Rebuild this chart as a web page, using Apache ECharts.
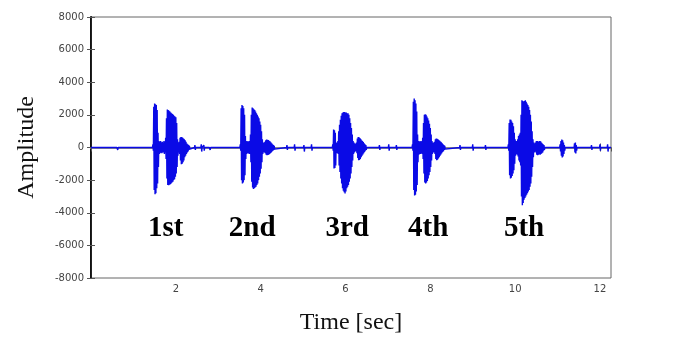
<!DOCTYPE html>
<html>
<head>
<meta charset="utf-8">
<script src="https://cdn.jsdelivr.net/npm/echarts@6/dist/echarts.min.js"></script>
<style>
html, body { margin: 0; background: #fff; }
#chart { width: 700px; height: 340px; }
</style>
</head>
<body>
<div id="chart"></div>
<script>
// time axis (sec) and amplitude axis
var timeMax = 12.26;
var timeTicks = 2;
var ampMin = -8000, ampMax = 8000, ampStep = 2000;

// each spoken word: start time, then upper / lower envelope every sampleStep sec
var sampleStep = 0.02;
var burstStarts = [1.46, 3.52, 5.70, 7.58, 9.84];
var burstHi = [
    [200,2500,2700,2650,2600,2300,900,400,350,400,300,350,300,400,350,600,1800,2330,2300,2250,2200,2150,2100,2050,2000,1950,1900,1850,1500,500,300,350,600,650,640,600,550,500,450,350,250,200,150,100],
    [200,2400,2600,2550,2400,2000,700,400,350,400,350,400,800,2000,2450,2400,2350,2300,2200,2100,2000,1900,1800,1600,1400,1000,500,300,300,350,450,490,480,460,420,380,320,260,200,150,100],
    [200,1100,1050,900,300,300,400,1000,1400,1700,1950,2100,2150,2180,2180,2150,2150,2100,2100,2000,1800,1500,1200,800,400,300,250,250,300,550,650,620,580,520,450,400,330,260,200,150],
    [200,2800,3000,2900,2700,2200,800,400,350,400,350,400,600,1500,2000,2040,2000,1900,1800,1650,1450,1200,800,400,300,300,350,500,550,540,500,460,420,370,320,260,200,150,100],
    [200,1500,1720,1700,1600,1500,1300,900,500,400,400,500,700,800,900,2000,2900,2850,2800,2850,2900,2800,2700,2600,2500,2300,2000,1600,1000,500,300,250,300,400,400,380,350,400,380,300,250,200,150]
];
var burstLo = [
    [-200,-2600,-2860,-2800,-2500,-2200,-1200,-400,-350,-300,-350,-300,-300,-400,-300,-700,-1900,-2300,-2310,-2280,-2250,-2200,-2150,-2100,-2000,-1950,-1800,-1600,-1200,-500,-300,-400,-800,-1020,-1000,-900,-800,-600,-500,-400,-300,-250,-150,-100],
    [-200,-2000,-2200,-2150,-2000,-1700,-700,-400,-350,-350,-400,-400,-900,-2100,-2450,-2550,-2500,-2450,-2400,-2300,-2200,-2000,-1800,-1600,-1300,-900,-400,-300,-300,-350,-450,-470,-460,-440,-400,-350,-300,-250,-200,-150,-100],
    [-200,-1290,-1250,-1100,-300,-350,-400,-1100,-1500,-1900,-2200,-2500,-2650,-2750,-2820,-2700,-2500,-2400,-2300,-2100,-1900,-1600,-1200,-800,-400,-300,-250,-250,-350,-650,-780,-760,-700,-600,-500,-420,-350,-280,-200,-150],
    [-200,-2600,-2950,-2900,-2700,-2300,-900,-450,-400,-400,-350,-400,-700,-1600,-2150,-2200,-2150,-2050,-1900,-1700,-1500,-1200,-800,-400,-300,-300,-400,-700,-780,-750,-680,-600,-500,-420,-350,-280,-220,-150,-100],
    [-200,-1700,-1900,-1850,-1750,-1600,-1400,-1000,-500,-400,-450,-550,-800,-900,-1100,-3000,-3540,-3400,-3200,-3100,-3000,-2900,-2800,-2700,-2600,-2400,-2200,-1800,-1200,-600,-300,-250,-300,-450,-470,-450,-420,-450,-400,-350,-300,-200,-150]
];

// background noise and small clicks between the words
var noiseTimes = [0.30,0.42,0.62,2.45,2.60,2.66,2.80,4.62,4.80,5.02,5.20,6.80,7.02,7.20,8.70,9.00,9.30,11.06,11.08,11.10,11.12,11.14,11.16,11.40,11.42,11.44,11.80,12.00,12.18];
var noiseHi    = [100,120,100,150,200,150,100,150,200,150,200,150,200,150,150,200,150,200,400,490,450,300,150,250,300,150,150,200,200];
var noiseLo    = [-100,-120,-150,-150,-250,-200,-150,-150,-200,-250,-200,-150,-200,-150,-150,-200,-150,-250,-500,-610,-550,-400,-200,-300,-370,-200,-150,-200,-250];

// word labels under the bursts
var wordLabels = ['1st', '2nd', '3rd', '4th', '5th'];
var wordTimes = [1.76, 3.80, 6.04, 7.95, 10.21];
var wordLevel = -4950;

// collect every (time, hi, lo) sample and turn it into a zig-zag waveform
var samples = [];
for (var b = 0; b < burstStarts.length; b++) {
    var n = Math.min(burstHi[b].length, burstLo[b].length);
    for (var i = 0; i < n; i++) {
        samples.push([+(burstStarts[b] + i * sampleStep).toFixed(3), burstHi[b][i], burstLo[b][i]]);
    }
}
for (var k = 0; k < noiseTimes.length; k++) {
    samples.push([noiseTimes[k], noiseHi[k], noiseLo[k]]);
}
samples.sort(function(a, b) { return a[0] - b[0]; });

var wave = [[0, 0]];
for (var s = 0; s < samples.length; s++) {
    var t = samples[s][0];
    var prev = s > 0 ? samples[s-1][0] : -1;
    var next = s < samples.length - 1 ? samples[s+1][0] : 99;
    if (t - prev > 0.05) wave.push([t - 0.01, 0]);
    wave.push([t, samples[s][1]]);
    wave.push([t + 0.01, samples[s][2]]);
    if (next - t > 0.05) wave.push([t + 0.02, 0]);
}
wave.push([timeMax, 0]);

var words = [];
for (var w = 0; w < wordLabels.length; w++) {
    words.push({ value: [wordTimes[w], wordLevel], name: wordLabels[w] });
}

var tickFont = { fontSize: 10, color: '#444', fontFamily: 'DejaVu Sans' };

var myChart = echarts.init(document.getElementById('chart'));
var option = {
    animation: false,
    grid: {
        left: 91,
        right: 89,
        top: 17,
        bottom: 62,
        show: true,
        borderColor: '#666',
        borderWidth: 1
    },
    xAxis: [
        {
            type: 'value',
            min: 0,
            max: timeMax,
            interval: timeTicks,
            position: 'bottom',
            name: 'Time [sec]',
            nameLocation: 'middle',
            nameGap: 33,
            nameTextStyle: { fontSize: 24, color: '#111', fontFamily: 'Liberation Serif' },
            axisLine: { show: true, lineStyle: { color: '#888', width: 2 } },
            axisTick: { show: true, inside: true, length: 4, lineStyle: { color: '#555' } },
            axisLabel: Object.assign({ margin: 6, showMinLabel: false, showMaxLabel: false }, tickFont),
            splitLine: { show: false }
        },
        {
            type: 'value',
            min: 0,
            max: timeMax,
            interval: timeTicks,
            position: 'top',
            axisLine: { show: true, lineStyle: { color: '#888', width: 1 } },
            axisTick: { show: true, inside: true, length: 4, lineStyle: { color: '#555' } },
            axisLabel: { show: false },
            splitLine: { show: false }
        }
    ],
    yAxis: [
        {
            type: 'value',
            min: ampMin,
            max: ampMax,
            interval: ampStep,
            position: 'left',
            name: 'Amplitude',
            nameLocation: 'middle',
            nameGap: 52,
            nameRotate: 90,
            nameTextStyle: { fontSize: 24, color: '#111', fontFamily: 'Liberation Serif' },
            axisLine: { show: true, lineStyle: { color: '#111', width: 2 } },
            axisTick: { show: true, inside: true, length: 4, lineStyle: { color: '#555' } },
            axisLabel: Object.assign({
                margin: 7,
                formatter: function(v) { return String(v); }
            }, tickFont),
            splitLine: { show: false }
        },
        {
            type: 'value',
            min: ampMin,
            max: ampMax,
            interval: ampStep,
            position: 'right',
            axisLine: { show: true, lineStyle: { color: '#222', width: 1 } },
            axisTick: { show: true, inside: true, length: 4, lineStyle: { color: '#555' } },
            axisLabel: { show: false },
            splitLine: { show: false }
        }
    ],
    series: [
        {
            name: 'signal',
            type: 'line',
            data: wave,
            showSymbol: false,
            symbol: 'none',
            sampling: null,
            lineStyle: { color: '#0a0ae6', width: 1.4 }
        },
        {
            name: 'words',
            type: 'scatter',
            data: words,
            symbolSize: 0,
            itemStyle: { opacity: 1 },
            label: {
                show: true,
                position: 'inside',
                formatter: '{b}',
                fontSize: 29,
                fontWeight: 'bold',
                fontFamily: 'Liberation Serif',
                color: '#000',
                opacity: 1,
                textBorderWidth: 0
            }
        }
    ]
};
myChart.setOption(option);
</script>
</body>
</html>
